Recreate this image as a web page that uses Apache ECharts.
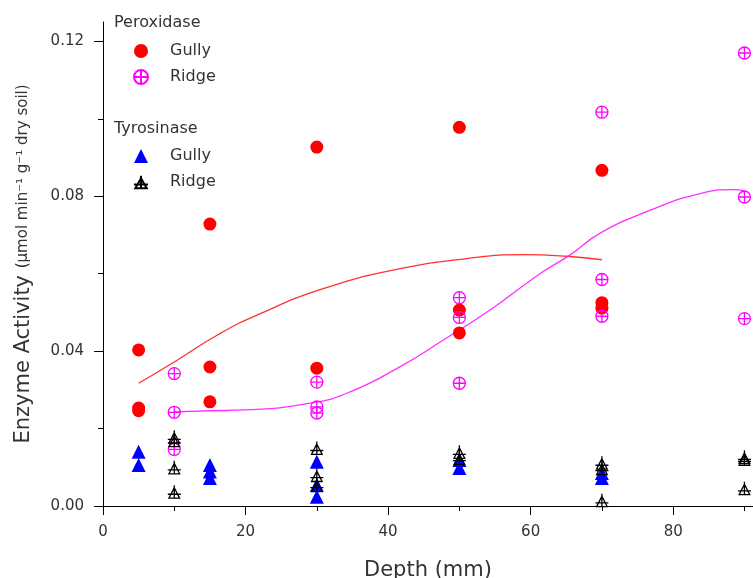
<!DOCTYPE html>
<html>
<head>
<meta charset="utf-8">
<script src="https://cdn.jsdelivr.net/npm/echarts@6/dist/echarts.min.js"></script>
<style>
  html, body { margin: 0; padding: 0; background: #fff; }
  #chart { width: 753px; height: 578px; }
</style>
</head>
<body>
<div id="chart"></div>
<script>
// depth (mm), activity
var peroxGully = [[5,0.0403],[5,0.0253],[5,0.0246],[15,0.0728],[15,0.0359],[15,0.0269],[30,0.0927],[30,0.0356],[50,0.0978],[50,0.0506],[50,0.0447],[70,0.0867],[70,0.0525],[70,0.0511]];
var peroxRidge = [[10,0.0342],[10,0.0242],[10,0.0146],[30,0.032],[30,0.0256],[30,0.024],[50,0.0538],[50,0.0487],[50,0.0317],[70,0.1017],[70,0.0585],[70,0.049],[90,0.117],[90,0.0798],[90,0.0484]];
var tyroGully = [[5,0.014],[5,0.0106],[15,0.0106],[15,0.0089],[15,0.0072],[30,0.0114],[30,0.0054],[30,0.0024],[50,0.0119],[50,0.0098],[70,0.0085],[70,0.0072]];
var tyroRidge = [[10,0.0179],[10,0.017],[10,0.01],[10,0.0037],[30,0.015],[30,0.008],[30,0.0054],[50,0.014],[50,0.0124],[70,0.0112],[70,0.0098],[70,0.0015],[90,0.0127],[90,0.0122],[90,0.0046]];

// fitted curves
var gullyFit = [[5,0.0317],[10,0.0372],[16,0.0441],[21.6,0.0493],[31,0.0562],[41.7,0.0613],[51,0.0639],[59,0.0649],[65,0.0645],[70,0.0636]];
var ridgeFit = [[10,0.0243],[15,0.0246],[20,0.0248],[29.5,0.0267],[34.7,0.0295],[41.7,0.036],[47.7,0.0428],[54.3,0.0506],[61.3,0.060],[65.5,0.0648],[69.7,0.0704],[76.8,0.0764],[83.8,0.0807],[88.5,0.0817],[90,0.0814]];

var xLabels = [0, 20, 40, 60, 80];
var xMinor = [10, 30, 50, 70, 90];
var yLabels = [0, 0.04, 0.08, 0.12];
var yMinor = [0.02, 0.06, 0.10];

var crossCircle = 'path://M0,-10 A10,10 0 1,1 0,10 A10,10 0 1,1 0,-10 Z M-10,0 L10,0 M0,-10 L0,10';
var crossTri = 'path://M0,-7 L9,9 L-9,9 Z M0,-11 L0,9 M-11,3 L11,3';

var font = '"DejaVu Sans", Verdana, sans-serif';
var txt = '#333';

var legendText = { fontSize: 16, fontFamily: font, color: txt, padding: [0, 0, 0, 17] };

var chart = echarts.init(document.getElementById('chart'));
chart.setOption({
  animation: false,
  grid: { left: 103, right: 0, top: 22, bottom: 72, outerBoundsMode: 'none' },
  graphic: [
    { type: 'text', left: 114, top: 15, style: { text: 'Peroxidase', fontSize: 16, fontFamily: font, fill: txt } },
    { type: 'text', left: 114, top: 121, style: { text: 'Tyrosinase', fontSize: 16, fontFamily: font, fill: txt } }
  ],
  legend: [{
    data: ['Peroxidase Gully', 'Peroxidase Ridge'],
    orient: 'vertical', left: 128, top: 38,
    itemWidth: 14, itemHeight: 14, itemGap: 10,
    formatter: function (n) { return n.split(' ')[1]; },
    textStyle: legendText
  }, {
    data: ['Tyrosinase Gully', 'Tyrosinase Ridge'],
    orient: 'vertical', left: 128, top: 143,
    itemWidth: 14, itemHeight: 14, itemGap: 10,
    formatter: function (n) { return n.split(' ')[1]; },
    textStyle: legendText
  }],
  xAxis: [{
    type: 'value', min: 0, max: 91.2,
    name: 'Depth (mm)', nameLocation: 'middle', nameGap: 54,
    nameTextStyle: { fontSize: 21, fontFamily: font, color: txt },
    axisLine: { lineStyle: { color: '#000', width: 1 } },
    axisTick: { length: 9, customValues: xLabels, lineStyle: { color: '#000' } },
    axisLabel: { customValues: xLabels, fontSize: 15, fontFamily: font, color: txt, margin: 19 },
    splitLine: { show: false }
  }, {
    type: 'value', min: 0, max: 91.2, position: 'bottom',
    axisLine: { show: false },
    axisTick: { length: 5, customValues: xMinor, lineStyle: { color: '#000' } },
    axisLabel: { show: false },
    splitLine: { show: false }
  }],
  yAxis: [{
    type: 'value', min: 0, max: 0.125,
    name: '{a|Enzyme Activity }{b|(µmol min⁻¹ g⁻¹ dry soil)}',
    nameLocation: 'middle', nameGap: 69, nameRotate: 90,
    nameTextStyle: {
      fontFamily: font, color: txt,
      rich: { a: { fontSize: 21, fontFamily: font, color: txt }, b: { fontSize: 15, fontFamily: font, color: txt } }
    },
    axisLine: { lineStyle: { color: '#000', width: 1 } },
    axisTick: { length: 9, customValues: yLabels, lineStyle: { color: '#000' } },
    axisLabel: {
      customValues: yLabels, fontSize: 15, fontFamily: font, color: txt, margin: 19,
      formatter: function (v) { return v.toFixed(2); }
    },
    splitLine: { show: false }
  }, {
    type: 'value', min: 0, max: 0.125, position: 'left',
    axisLine: { show: false },
    axisTick: { length: 5, customValues: yMinor, lineStyle: { color: '#000' } },
    axisLabel: { show: false },
    splitLine: { show: false }
  }],
  series: [{
    name: 'Gully fit', type: 'line', data: gullyFit, smooth: true, symbol: 'none',
    lineStyle: { color: '#ff3030', width: 1.3 }, z: 1
  }, {
    name: 'Ridge fit', type: 'line', data: ridgeFit, smooth: true, symbol: 'none',
    lineStyle: { color: '#ff30ff', width: 1.3 }, z: 1
  }, {
    name: 'Peroxidase Gully', type: 'scatter', data: peroxGully,
    symbol: 'circle', symbolSize: 13,
    itemStyle: { color: '#ff0000', opacity: 1 }
  }, {
    name: 'Peroxidase Ridge', type: 'scatter', data: peroxRidge,
    symbol: crossCircle, symbolSize: 12,
    itemStyle: { color: 'rgba(0,0,0,0)', borderColor: '#ff00ff', borderWidth: 1.3, opacity: 1 }
  }, {
    name: 'Tyrosinase Gully', type: 'scatter', data: tyroGully,
    symbol: 'triangle', symbolSize: 14,
    itemStyle: { color: '#0000ff', opacity: 1 }
  }, {
    name: 'Tyrosinase Ridge', type: 'scatter', data: tyroRidge,
    symbol: crossTri, symbolSize: 13,
    itemStyle: { color: 'rgba(0,0,0,0)', borderColor: '#000', borderWidth: 1.3, opacity: 1 }
  }]
});
</script>
</body>
</html>
